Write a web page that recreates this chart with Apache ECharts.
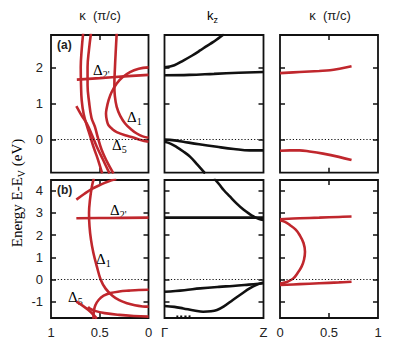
<!DOCTYPE html>
<html>
<head>
<meta charset="utf-8">
<script src="https://cdn.jsdelivr.net/npm/echarts@6/dist/echarts.min.js"></script>
<style>html,body{margin:0;padding:0;background:#fff}#c{width:399px;height:344px}</style>
</head>
<body>
<div id="c"></div>
<script>
// ---------- data ----------
// panel (a), left: kappa (pi/c) vs energy (eV)
const aLeftOuter = [[0.67,2.95],[0.685,2.5],[0.695,2.0],[0.692,1.5],[0.685,1.08],[0.665,0.7],[0.63,0.36],[0.6,0.1],[0.566,-0.2],[0.52,-0.55],[0.475,-0.95]];
const aLeftInner = [[0.59,2.95],[0.61,2.5],[0.625,2.0],[0.625,1.5],[0.61,1.05],[0.585,0.6],[0.55,0.35],[0.52,0.05],[0.48,-0.3],[0.43,-0.6],[0.36,-0.95]];
const aLeftShort = [[0.74,0.92],[0.69,0.68],[0.634,0.44],[0.58,0.12],[0.53,-0.21],[0.47,-0.55],[0.4,-0.95]];
const aLeftV = [[0.326,2.95],[0.335,2.5],[0.344,2.0],[0.35,1.5],[0.345,1.2],[0.326,0.9],[0.29,0.65],[0.24,0.44],[0.18,0.28],[0.12,0.16],[0.06,0.08],[0.0,0.04]];
const aLeftC = [[0.0,2.0],[0.1,1.96],[0.19,1.87],[0.27,1.72],[0.326,1.55],[0.38,1.3],[0.41,1.08],[0.43,0.85],[0.436,0.71],[0.425,0.5],[0.41,0.39],[0.37,0.28],[0.326,0.2],[0.24,0.11],[0.156,0.05],[0.08,-0.02],[0.0,-0.07]];
const aLeftD2 = [[0.735,1.66],[0.5,1.7],[0.25,1.75],[0.0,1.79]];
// panel (a), middle: kz (Gamma=0 .. Z=1) vs energy
const aMid1 = [[0,2.0],[0.1,2.06],[0.19,2.19],[0.28,2.33],[0.36,2.47],[0.43,2.6],[0.49,2.7],[0.55,2.82],[0.6,2.92]];
const aMid2 = [[0,1.78],[0.25,1.79],[0.5,1.82],[0.75,1.85],[1,1.87]];
const aMid3 = [[0,-0.01],[0.1,-0.03],[0.19,-0.07],[0.35,-0.14],[0.53,-0.21],[0.7,-0.27],[0.86,-0.31],[1,-0.31]];
const aMid4 = [[0,-0.07],[0.06,-0.12],[0.12,-0.21],[0.19,-0.34],[0.26,-0.49],[0.33,-0.7],[0.41,-0.95]];
// panel (a), right
const aRight1 = [[0,1.84],[0.2,1.87],[0.4,1.9],[0.51,1.92],[0.62,1.97],[0.73,2.03]];
const aRight2 = [[0,-0.32],[0.1,-0.31],[0.2,-0.31],[0.3,-0.34],[0.44,-0.4],[0.6,-0.49],[0.73,-0.58]];
// panel (b), left
const bLeftD1 = [[0.56,4.55],[0.58,4.2],[0.6,3.6],[0.61,3.0],[0.605,2.4],[0.59,1.8],[0.565,1.2],[0.53,0.6],[0.49,0.0],[0.44,-0.4],[0.37,-0.72],[0.3,-0.92],[0.22,-1.06],[0.14,-1.15],[0.06,-1.2],[0.0,-1.21]];
const bLeftTop = [[0.74,3.6],[0.66,3.85],[0.58,4.08],[0.5,4.25],[0.42,4.4],[0.33,4.52]];
const bLeftD2 = [[0.74,2.76],[0.4,2.775],[0.0,2.79]];
const bLeftHook = [[0.0,-0.45],[0.1,-0.46],[0.2,-0.49],[0.3,-0.53],[0.39,-0.6],[0.46,-0.72],[0.51,-0.9],[0.545,-1.15],[0.56,-1.4],[0.565,-1.75]];
const bLeftLow = [[0.62,-1.22],[0.6,-1.3],[0.55,-1.4],[0.45,-1.5],[0.3,-1.58],[0.15,-1.63],[0.0,-1.66]];
const bLeftD5 = [[0.74,-0.98],[0.68,-1.15],[0.62,-1.35],[0.57,-1.55],[0.53,-1.75]];
// panel (b), middle
const bMid1 = [[0.5,4.55],[0.55,4.3],[0.6,4.02],[0.66,3.74],[0.73,3.42],[0.8,3.14],[0.86,2.95],[0.9,2.84],[0.95,2.74],[1.0,2.69]];
const bMid2 = [[0,2.79],[1,2.79]];
const bMid3 = [[0,-0.54],[0.2,-0.47],[0.36,-0.39],[0.55,-0.32],[0.69,-0.28],[0.85,-0.22],[1,-0.16]];
const bMid4 = [[0,-1.18],[0.1,-1.22],[0.19,-1.29],[0.3,-1.38],[0.39,-1.44],[0.47,-1.42],[0.53,-1.36],[0.6,-1.2],[0.69,-0.91],[0.78,-0.63],[0.86,-0.39],[0.93,-0.23],[1,-0.13]];
const bMid5 = [[0.12,-1.66],[0.28,-1.65]];
// panel (b), right
const bRight1 = [[0,2.72],[0.2,2.76],[0.4,2.79],[0.6,2.82],[0.73,2.84]];
const bRightLoop = [[0,2.66],[0.05,2.6],[0.1,2.46],[0.16,2.25],[0.2,2.01],[0.24,1.65],[0.255,1.26],[0.245,0.9],[0.22,0.59],[0.18,0.3],[0.136,0.06],[0.08,-0.08],[0.03,-0.15],[0,-0.17]];
const bRight2 = [[0,-0.24],[0.2,-0.2],[0.4,-0.16],[0.6,-0.12],[0.73,-0.09]];
// ticks
const yTicksA = [0, 1, 2];
const yTicksB = [-1, 0, 1, 2, 3, 4];
const kappaTicks = [0, 0.5, 1];
const kzLabels = {0: 'Γ', 1: 'Z'};

// ---------- layout ----------
const RED = '#c0272d', BLK = '#111';
const cols = [{left: 51, width: 97.5}, {left: 164.5, width: 99}, {left: 280, width: 98}];
const rows = [{top: 35, height: 137.7, min: -0.93, max: 2.9, ticks: yTicksA},
              {top: 180, height: 138, min: -1.72, max: 4.48, ticks: yTicksB}];
const grid = [], xAxis = [], yAxis = [], series = [];
const SANS = 'Liberation Sans, Arial, sans-serif';
const LBL = {fontFamily: SANS, fontSize: 13, color: '#222'};
rows.forEach((r, ri) => {
  cols.forEach((c, ci) => {
    const gi = ri * 3 + ci;
    grid.push({left: c.left, width: c.width, top: r.top, height: r.height, show: true,
      borderColor: BLK, borderWidth: 1.8, backgroundColor: 'transparent'});
    const isKappa = ci !== 1;
    const tickX = {show: isKappa, inside: true, length: 5, customValues: [0.5], lineStyle: {color: BLK, width: 1.5}};
    const bottomLabel = ri === 1;
    xAxis.push({gridIndex: gi, type: 'value', min: 0, max: 1, inverse: ci === 0, position: 'bottom',
      axisLine: {show: false, onZero: false}, splitLine: {show: false}, axisTick: tickX,
      axisLabel: {show: bottomLabel, ...LBL, margin: 8, customValues: ci === 1 ? [0, 1] : kappaTicks,
        formatter: v => ci === 1 ? kzLabels[v] : String(v)}});
    xAxis.push({gridIndex: gi, type: 'value', min: 0, max: 1, inverse: ci === 0, position: 'top',
      axisLine: {show: false, onZero: false}, splitLine: {show: false}, axisTick: tickX, axisLabel: {show: false}});
    const tickY = {show: true, inside: true, length: 5, customValues: r.ticks, lineStyle: {color: BLK, width: 1.5}};
    yAxis.push({gridIndex: gi, type: 'value', min: r.min, max: r.max, position: 'left',
      axisLine: {show: false, onZero: false}, splitLine: {show: false}, axisTick: tickY,
      axisLabel: {show: ci === 0, ...LBL, margin: 8, customValues: r.ticks}});
    yAxis.push({gridIndex: gi, type: 'value', min: r.min, max: r.max, position: 'right',
      axisLine: {show: false, onZero: false}, splitLine: {show: false}, axisTick: tickY, axisLabel: {show: false}});
    // zero line
    series.push({type: 'line', xAxisIndex: gi * 2, yAxisIndex: gi * 2, data: [], silent: true,
      markLine: {silent: true, symbol: 'none', label: {show: false},
        lineStyle: {type: [1.2, 2], color: BLK, width: 1}, data: [{yAxis: 0}]}});
  });
});
function addLine(gi, data, color, extra) {
  series.push(Object.assign({type: 'line', xAxisIndex: gi * 2, yAxisIndex: gi * 2, data: data,
    showSymbol: false, smooth: 0.4, clip: true, silent: true,
    lineStyle: {color: color, width: 2.6}}, extra || {}));
}
[aLeftOuter, aLeftInner, aLeftShort, aLeftV, aLeftC, aLeftD2].forEach(d => addLine(0, d, RED));
[aMid1, aMid2, aMid3, aMid4].forEach(d => addLine(1, d, BLK));
[aRight1, aRight2].forEach(d => addLine(2, d, RED));
[bLeftD1, bLeftTop, bLeftD2, bLeftHook, bLeftLow, bLeftD5].forEach(d => addLine(3, d, RED));
[bMid1, bMid2, bMid3, bMid4].forEach(d => addLine(4, d, BLK));
addLine(4, bMid5, BLK, {lineStyle: {color: BLK, width: 2.2, type: [2, 2]}});
[bRight1, bRightLoop, bRight2].forEach(d => addLine(5, d, RED));

const SERIF = 'Liberation Serif, Times New Roman, serif';
const deltaRich = {n: {fontFamily: SERIF, fontSize: 15, color: '#111'},
                   s: {fontFamily: SERIF, fontSize: 10, color: '#111', padding: [9, 0, 0, 0]}};
function delta(x, y, sub) {
  return {type: 'text', x: x, y: y, silent: true,
    style: {text: '{n|Δ}{s|' + sub + '}', rich: deltaRich}};
}
const graphic = [
  {type: 'text', silent: true,
    style: {text: 'κ  (π/c)', fontFamily: SANS, fontSize: 13, fill: '#222', x: 100, y: 15, align: 'center', verticalAlign: 'middle'}},
  {type: 'text', silent: true,
    style: {text: 'κ  (π/c)', fontFamily: SANS, fontSize: 13, fill: '#222', x: 330, y: 15, align: 'center', verticalAlign: 'middle'}},
  {type: 'text', silent: true, x: 207, y: 7,
    style: {text: '{k|k}{z|z}', rich: {k: {fontFamily: SANS, fontSize: 13, color: '#222'},
      z: {fontFamily: SANS, fontSize: 9, color: '#222', padding: [8, 0, 0, 0]}}}},
  {type: 'text', silent: true, x: 17, y: 193, rotation: Math.PI / 2,
    style: {text: '{m|Energy E-E}{s|V}{m| (eV)}', align: 'center', verticalAlign: 'middle',
      rich: {m: {fontFamily: SERIF, fontSize: 15, color: '#222'},
             s: {fontFamily: SERIF, fontSize: 10, color: '#222', padding: [9, 0, 0, 0]}}}},
  {type: 'text', silent: true, x: 57, y: 39,
    style: {text: '(a)', fontFamily: SANS, fontSize: 12, fontWeight: 'bold', fill: '#222'}},
  {type: 'text', silent: true, x: 57, y: 184,
    style: {text: '(b)', fontFamily: SANS, fontSize: 12, fontWeight: 'bold', fill: '#222'}},
  delta(93, 60, "2'"), delta(127, 107, '1'), delta(112, 135, '5'),
  delta(110, 200, "2'"), delta(96, 249, '1'), delta(68, 287, '5')
];

const chart = echarts.init(document.getElementById('c'), null, {renderer: 'svg', width: 399, height: 344});
chart.setOption({animation: false, backgroundColor: '#fff', grid, xAxis, yAxis, series, graphic});
</script>
</body>
</html>
